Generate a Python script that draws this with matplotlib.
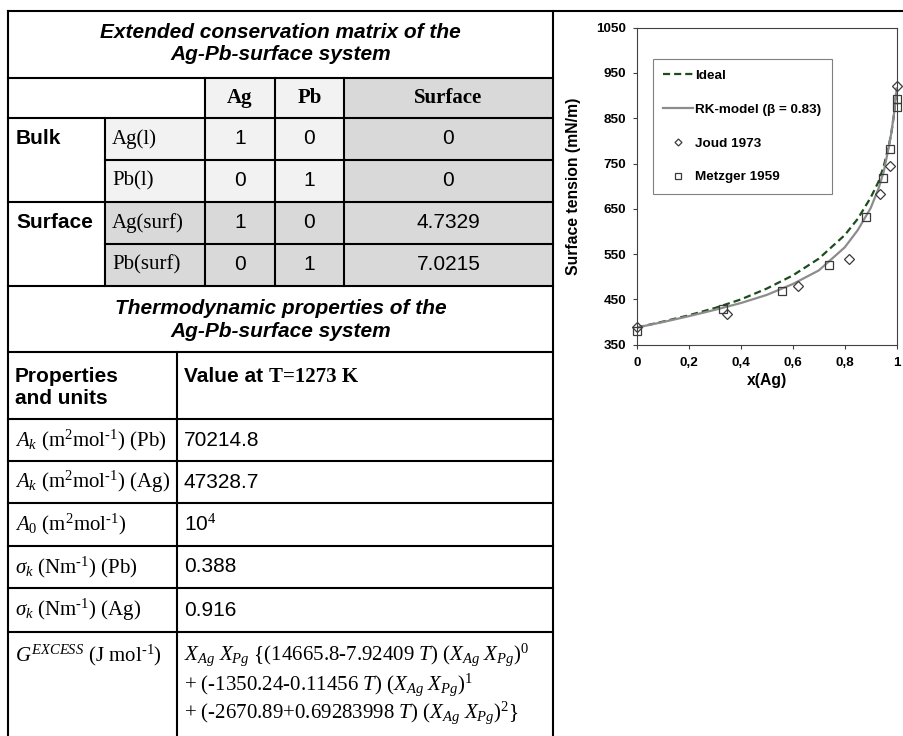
import numpy as np
import matplotlib.pyplot as plt
from matplotlib.patches import Rectangle

plt.rcParams['mathtext.fontset'] = 'custom'
plt.rcParams['mathtext.rm'] = 'Liberation Serif'
plt.rcParams['mathtext.it'] = 'Liberation Serif:italic'
plt.rcParams['mathtext.bf'] = 'Liberation Serif:bold'

SANS = 'Liberation Sans'
SERIF = 'Liberation Serif'

# extended conservation matrix
matrix_cols = ['Ag', 'Pb', 'Surface']
phase_groups = ['Bulk', 'Surface']
species = ['Ag(l)', 'Pb(l)', 'Ag(surf)', 'Pb(surf)']
coef_ag = ['1', '0', '1', '0']
coef_pb = ['0', '1', '0', '1']
coef_surface = ['0', '0', '4.7329', '7.0215']

# thermodynamic properties at 1273 K
prop_labels = [
    '$A_k$ (m$^2$mol$^{\\text{-}1}$) (Pb)',
    '$A_k$ (m$^2$mol$^{\\text{-}1}$) (Ag)',
    '$A_\\mathit{0}$ (m$^2$mol$^{\\text{-}1}$)',
    '$\\mathit{\\sigma}_k$ (Nm$^{\\text{-}1}$) (Pb)',
    '$\\mathit{\\sigma}_k$ (Nm$^{\\text{-}1}$) (Ag)',
]
prop_values = ['70214.8', '47328.7', '10$^4$', '0.388', '0.916']
gex_label = '$G^{EXCESS}$ (J mol$^{\\text{-}1}$)'
gex_lines = [
    '$X_{Ag}\\ X_{Pg}$ {(14665.8-7.92409 $T$) $(X_{Ag}\\ X_{Pg})^\\mathit{0}$',
    '+ (-1350.24-0.11456 $T$) $(X_{Ag}\\ X_{Pg})^\\mathit{1}$',
    '+ (-2670.89+0.69283998 $T$) $(X_{Ag}\\ X_{Pg})^2$}',
]

# surface tension curves (mN/m) vs x(Ag)
x_model = [0, 0.1, 0.2, 0.3, 0.4, 0.5, 0.6, 0.7, 0.8, 0.85, 0.9, 0.93, 0.95, 0.97, 0.98, 0.99, 1.0]
ideal_y = [388, 401, 415, 431, 450, 474, 503, 540, 592, 628, 675, 710, 744, 790, 820, 860, 916]
rk_y = [388, 400, 413, 427, 442, 460, 484, 514, 565, 603, 652, 695, 732, 788, 820, 862, 916]

joud_x = [0, 0.348, 0.619, 0.818, 0.934, 0.974, 1.0]
joud_y = [388, 417, 480, 540, 682, 745, 922]
metzger_x = [0, 0.333, 0.56, 0.74, 0.882, 0.946, 0.975, 1.0, 1.0]
metzger_y = [380, 429, 469, 527, 632, 719, 782, 893, 875]

xtick_vals = [0, 0.2, 0.4, 0.6, 0.8, 1.0]
xtick_labels = ['0', '0,2', '0,4', '0,6', '0,8', '1']
ytick_vals = [350, 450, 550, 650, 750, 850, 950, 1050]

fig = plt.figure(figsize=(9.04, 7.36), dpi=100)

# ---- table, drawn in pixel coordinates ----
tab = fig.add_axes([0, 0, 1, 1])
tab.set_xlim(0, 904)
tab.set_ylim(736, 0)
tab.axis('off')

LIGHT = '#f2f2f2'
DARK = '#d9d9d9'
cx = [8, 105, 205, 275, 344, 553]
split = 177
ry = [11, 78, 118, 160, 202, 244, 286, 352, 419, 461, 503, 546, 588, 632, 736]
fs = 15


def fill(x0, x1, y0, y1, c):
    tab.add_patch(Rectangle((x0, y0), x1 - x0, y1 - y0, facecolor=c,
                            edgecolor='none', zorder=0))


def hline(y, x0, x1):
    tab.plot([x0, x1], [y, y], color='black', lw=1.5, solid_capstyle='projecting')


def vline(x, y0, y1):
    tab.plot([x, x], [y0, y1], color='black', lw=1.5, solid_capstyle='projecting')


fill(cx[2], cx[4], ry[1], ry[2], LIGHT)
fill(cx[4], cx[5], ry[1], ry[2], DARK)
fill(cx[1], cx[4], ry[2], ry[4], LIGHT)
fill(cx[4], cx[5], ry[2], ry[4], DARK)
fill(cx[1], cx[5], ry[4], ry[6], DARK)

hline(ry[0], cx[0], 904)
for y in [ry[1], ry[2], ry[4], ry[6]] + ry[7:14]:
    hline(y, cx[0], cx[5])
hline(ry[3], cx[1], cx[5])
hline(ry[5], cx[1], cx[5])
vline(cx[0], ry[0], 740)
vline(cx[5], ry[0], 740)
vline(cx[1], ry[2], ry[6])
for x in cx[2:5]:
    vline(x, ry[1], ry[6])
vline(split, ry[7], 740)

mid_x = (cx[0] + cx[5]) / 2
tab.text(mid_x, (ry[0] + ry[1]) / 2 - 1, 'Extended conservation matrix of the\nAg-Pb-surface system',
         ha='center', va='center', family=SANS, weight='bold', style='italic',
         fontsize=fs, linespacing=1.25)
tab.text(mid_x, (ry[6] + ry[7]) / 2 + 1, 'Thermodynamic properties of the\nAg-Pb-surface system',
         ha='center', va='center', family=SANS, weight='bold', style='italic',
         fontsize=fs, linespacing=1.25)

hdr_x = [(cx[2] + cx[3]) / 2, (cx[3] + cx[4]) / 2, (cx[4] + cx[5]) / 2]
for hx, name in zip(hdr_x, matrix_cols):
    tab.text(hx, (ry[1] + ry[2]) / 2, name, ha='center', va='center',
             family=SERIF, weight='bold', fontsize=fs)

for g, name in enumerate(phase_groups):
    r = 2 + 2 * g
    tab.text(cx[0] + 8, (ry[r] + ry[r + 1]) / 2, name, ha='left', va='center',
             family=SANS, weight='bold', fontsize=fs)

for i, sp in enumerate(species):
    yc = (ry[2 + i] + ry[3 + i]) / 2
    tab.text(cx[1] + 7, yc, sp, ha='left', va='center', family=SERIF, fontsize=fs)
    for hx, val in zip(hdr_x, [coef_ag[i], coef_pb[i], coef_surface[i]]):
        tab.text(hx, yc, val, ha='center', va='center', family=SANS, fontsize=fs)

tab.text(cx[0] + 7, (ry[7] + ry[8]) / 2 + 2, 'Properties\nand units', ha='left', va='center',
         family=SANS, weight='bold', fontsize=fs, linespacing=1.25)
t_val = tab.text(split + 7, ry[7] + 25, 'Value at ', ha='left', va='center',
                 family=SANS, weight='bold', fontsize=fs)
tab.annotate('T=1273 K', xy=(1, 0), xycoords=t_val, ha='left', va='bottom',
             family=SERIF, weight='bold', fontsize=fs)

for i, (lab, val) in enumerate(zip(prop_labels, prop_values)):
    yc = (ry[8 + i] + ry[9 + i]) / 2
    tab.text(cx[0] + 7, yc, lab, ha='left', va='center', family=SERIF, fontsize=fs)
    tab.text(split + 7, yc, val, ha='left', va='center', family=SANS, fontsize=fs)

gex_y = [655, 685, 713]
tab.text(cx[0] + 7, gex_y[0], gex_label, ha='left', va='center', family=SERIF, fontsize=fs)
for gy, line in zip(gex_y, gex_lines):
    tab.text(split + 7, gy, line, ha='left', va='center', family=SERIF, fontsize=fs)

# ---- surface tension chart ----
ax = fig.add_axes([637 / 904, 1 - 344.7 / 736, 259.7 / 904, 317 / 736])
ax.plot(x_model, ideal_y, ls=(0, (3.2, 1.8)), color='#1c4d1c', lw=1.6, label='Ideal')
ax.plot(x_model, rk_y, color='#8c8c8c', lw=1.6, label='RK-model (β = 0.83)')
ax.plot(joud_x, joud_y, ls='none', marker='D', ms=4.7, mfc='none', mec='#3a3a3a',
        mew=0.9, label='Joud 1973', clip_on=False)
ax.plot(metzger_x, metzger_y, ls='none', marker='s', ms=5.8, mfc='none', mec='#3a3a3a',
        mew=0.9, label='Metzger 1959', clip_on=False)

ax.set_xlim(0, 1)
ax.set_ylim(350, 1050)
ax.set_xticks(xtick_vals)
ax.set_xticklabels(xtick_labels)
ax.set_yticks(ytick_vals)
ax.tick_params(direction='out', length=3, width=0.8, color='#404040', labelsize=9.7, pad=5)
ax.tick_params(axis='x', pad=6)
for lbl in ax.get_xticklabels() + ax.get_yticklabels():
    lbl.set_fontfamily(SANS)
    lbl.set_fontweight('bold')
for sp in ax.spines.values():
    sp.set_color('#404040')
    sp.set_linewidth(0.8)

ax.set_ylabel('Surface tension (mN/m)', family=SANS, weight='bold', fontsize=11.3)
ax.set_xlabel('x(Ag)', family=SANS, weight='bold', fontsize=11.3)
ax.yaxis.set_label_coords(-0.215, 0.5)
ax.xaxis.set_label_coords(0.5, -0.09)

leg = ax.legend(loc='upper left', bbox_to_anchor=(16 / 259.7, (344.7 - 59) / 317),
                borderaxespad=0, fancybox=False, framealpha=1, edgecolor='#808080',
                prop={'family': SANS, 'weight': 'bold', 'size': 9.7},
                borderpad=0.75, labelspacing=1.6, handlelength=2.2, handletextpad=0.2,
                markerscale=0.75)
leg.get_frame().set_linewidth(0.8)

fig.savefig('out.png', dpi=100)
